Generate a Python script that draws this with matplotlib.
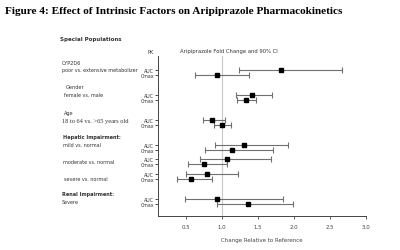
import matplotlib
matplotlib.use("Agg")
import matplotlib.pyplot as plt

# Data
groups = ["CYP2D6", "Gender", "Age", "Hepatic Impairment:", "", "", "Renal Impairment:"]
comparisons = ["poor vs. extensive metabolizer", "female vs. male", "18 to 64 vs. >65 years old",
               "mild vs. normal", "moderate vs. normal", "severe vs. normal", "Severe"]
auc_est = [1.815, 1.42, 0.866, 1.31, 1.07, 0.79, 0.93]
auc_lo = [1.236, 1.194, 0.73, 0.90, 0.69, 0.505, 0.48]
auc_hi = [2.67, 1.69, 1.04, 1.91, 1.68, 1.225, 1.84]
cmax_est = [0.93, 1.333, 1.0, 1.14, 0.745, 0.57, 1.36]
cmax_lo = [0.625, 1.208, 0.89, 0.76, 0.52, 0.38, 0.93]
cmax_hi = [1.38, 1.47, 1.12, 1.71, 1.07, 0.865, 1.99]
xticks = [0.5, 1.0, 1.5, 2.0, 2.5, 3.0]

# layout (row positions, in pixel-like units from the top)
row_y = [71.3, 96, 121, 146, 160.5, 175.5, 200]
group_y = [63.3, 87.7, 113.3, 138, None, None, 194.3]
comp_y = [70.7, 95.7, 122, 145.7, 162.3, 179.7, 202.3]
group_x = [62, 66, 64, 63, 0, 0, 62]
comp_x = [62, 64, 62, 63, 63, 63.5, 62]
dy = 5

W, H = 400, 251
fig = plt.figure(figsize=(W / 100, H / 100), dpi=100)
ax = fig.add_axes([158 / W, 1 - 217 / H, (366 - 158) / W, (217 - 57) / H])
ax.set_xlim(0.11, 3.0)
ax.set_ylim(217, 57)

ax.axvline(1.0, color="#c8c8c8", lw=0.8, zorder=0)

ecol = "#707070"
for i, y in enumerate(row_y):
    ya, yc = y, y + dy
    ax.errorbar(auc_est[i], ya, xerr=[[auc_est[i] - auc_lo[i]], [auc_hi[i] - auc_est[i]]],
                fmt="s", color="black", ms=3.4, ecolor=ecol, elinewidth=0.8, capsize=2.2, capthick=0.8)
    ax.errorbar(cmax_est[i], yc, xerr=[[cmax_est[i] - cmax_lo[i]], [cmax_hi[i] - cmax_est[i]]],
                fmt="s", color="black", ms=3.4, ecolor=ecol, elinewidth=0.8, capsize=2.2, capthick=0.8)

ax.set_yticks([v for y in row_y for v in (y, y + dy)])
ax.set_yticklabels(["AUC", "Cmax"] * len(row_y))
ax.tick_params(axis="y", length=2, width=0.6, pad=1, labelsize=3.4, colors="#333333")
ax.set_xticks(xticks)
ax.set_xticklabels([f"{t:.1f}" for t in xticks])
ax.tick_params(axis="x", length=2.5, width=0.6, pad=3, labelsize=3.9, colors="#444444")
for s in ["top", "right"]:
    ax.spines[s].set_visible(False)
for s in ["left", "bottom"]:
    ax.spines[s].set_linewidth(0.7)
    ax.spines[s].set_color("#444444")
ax.set_xlabel("Change Relative to Reference", fontsize=4.0, color="#444444", labelpad=6)

# Texts
fig.text(5 / W, 1 - 12 / H, "Figure 4: Effect of Intrinsic Factors on Aripiprazole Pharmacokinetics",
         fontsize=8.15, fontweight="bold", family="Liberation Serif", va="center", ha="left")
fig.text(60 / W, 1 - 40 / H, "Special Populations", fontsize=4.0, fontweight="bold", color="#333333",
         va="center", ha="left")
fig.text(151 / W, 1 - 52 / H, "PK", fontsize=3.6, color="#333333", va="center", ha="center")
fig.text(228.5 / W, 1 - 52 / H, "Aripiprazole Fold Change and 90% CI", fontsize=3.75, color="#333333",
         va="center", ha="center")

def ypix(y):
    return 1 - y / H

for i in range(len(row_y)):
    if groups[i]:
        fig.text(group_x[i] / W, ypix(group_y[i]), groups[i], fontsize=3.6, color="#333333",
                 va="center", ha="left", fontweight="bold" if i >= 3 else "normal")
    if i == 2:
        fig.text(comp_x[i] / W, ypix(comp_y[i]), comparisons[i], fontsize=4.6, color="#333333",
                 va="center", ha="left", family="Liberation Serif")
    else:
        fig.text(comp_x[i] / W, ypix(comp_y[i]), comparisons[i], fontsize=3.5, color="#333333",
                 va="center", ha="left")

fig.savefig("out.png", dpi=100)
